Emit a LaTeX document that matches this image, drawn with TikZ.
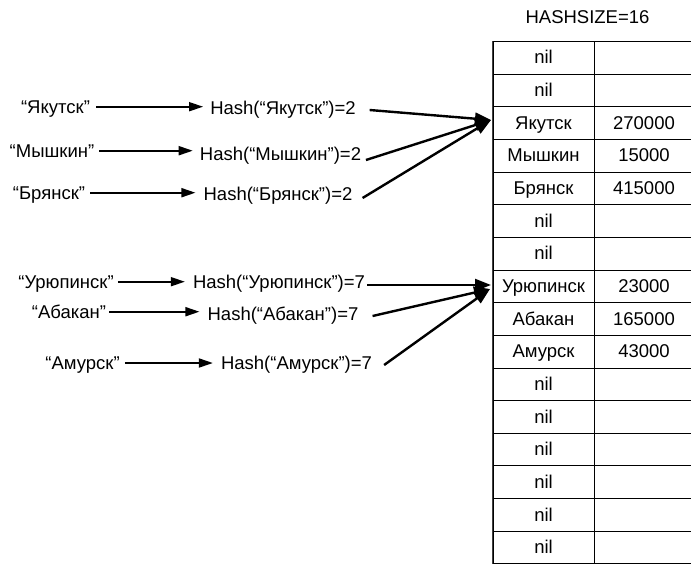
\documentclass[tikz,border=0pt]{standalone}
\usepackage{fontspec}
\setmainfont{Liberation Sans}
\usetikzlibrary{arrows.meta}
\begin{document}
\begin{tikzpicture}[x=1pt,y=-1pt,
  every node/.style={font=\fontsize{18.5pt}{22pt}\selectfont},
  txt/.style={inner sep=0pt, text height=13.3pt, text depth=0pt},
  cellL/.style={draw, line width=1pt, minimum width=101pt, minimum height=32.65pt,
    inner sep=0pt, text height=13.3pt, text depth=1pt},
  cellR/.style={cellL, minimum width=100pt},
  feed/.style={line width=1.8pt, -{Triangle[length=14pt,width=9pt]}},
  collide/.style={line width=2.4pt, -{Triangle[length=16pt,width=12pt]}}
]
\useasboundingbox (0,0) rectangle (691,563);

% hash table with 16 slots
\node[txt] (size) at (587.5,17) {HASHSIZE=16};
\begin{scope}
  \clip (0,0) rectangle (691,563);
  \foreach \i/\k/\v in {0/nil/,1/nil/,2/Якутск/270000,3/Мышкин/15000,
      4/Брянск/415000,5/nil/,6/nil/,7/Урюпинск/23000,8/Абакан/165000,
      9/Амурск/43000,10/nil/,11/nil/,12/nil/,13/nil/,14/nil/,15/nil/}{
    \node[cellL] (c\i) at (543.5,{41.5+(\i+0.5)*32.65}) {\k};
    \node[cellR] (v\i) at (644,{41.5+(\i+0.5)*32.65}) {\v};
  }
  \draw[line width=1.4pt, black!75] (c0.north west) -- (c15.south west);
\end{scope}

% keys
\node[txt] (k1) at (55.5,106.7) {“Якутск”};
\node[txt] (k2) at (52,150.7) {“Мышкин”};
\node[txt] (k3) at (49,192.7) {“Брянск”};
\node[txt] (k4) at (66,281.7) {“Урюпинск”};
\node[txt] (k5) at (69,311.7) {“Абакан”};
\node[txt] (k6) at (82.5,363) {“Амурск”};

% hash values
\node[txt] (h1) at (283,108.3) {Hash(“Якутск”)=2};
\node[txt] (h2) at (280.5,154) {Hash(“Мышкин”)=2};
\node[txt] (h3) at (278,194) {Hash(“Брянск”)=2};
\node[txt] (h4) at (279,281.7) {Hash(“Урюпинск”)=7};
\node[txt] (h5) at (283,314) {Hash(“Абакан”)=7};
\node[txt] (h6) at (296.5,363) {Hash(“Амурск”)=7};

% key -> hash
\draw[feed, shorten <=6pt, shorten >=7pt] (k1.east) -- (k1.east -| h1.west);
\draw[feed, shorten <=5pt, shorten >=7pt] (k2.east) -- (k2.east -| h2.west);
\draw[feed, shorten <=5pt, shorten >=8pt] (k3.east) -- (k3.east -| h3.west);
\draw[feed, shorten <=4pt, shorten >=8pt] (k4.east) -- (k4.east -| h4.west);
\draw[feed, shorten <=3pt, shorten >=8pt] (k5.east) -- (k5.east -| h5.west);
\draw[feed, shorten <=5pt, shorten >=8pt] (k6.east) -- (k6.east -| h6.west);

% colliding entries point into the same slot
\coordinate (tipA) at (491,120);
\coordinate (tipB) at (491,285);
\coordinate (tipC) at (490,289);
\draw[collide] ([xshift=13.7pt,yshift=-1.7pt]h1.east) -- (tipA);
\draw[collide] ([xshift=4.7pt,yshift=-6pt]h2.east) -- (tipA);
\draw[collide] ([xshift=10pt,yshift=-4pt]h3.east) -- (tipA);
\draw[collide] ([xshift=2pt,yshift=-3.3pt]h4.east) -- (tipB);
\draw[collide] ([xshift=14pt,yshift=-2pt]h5.east) -- (tipC);
\draw[collide] ([xshift=12pt,yshift=-2pt]h6.east) -- (tipC);
\end{tikzpicture}
\end{document}
